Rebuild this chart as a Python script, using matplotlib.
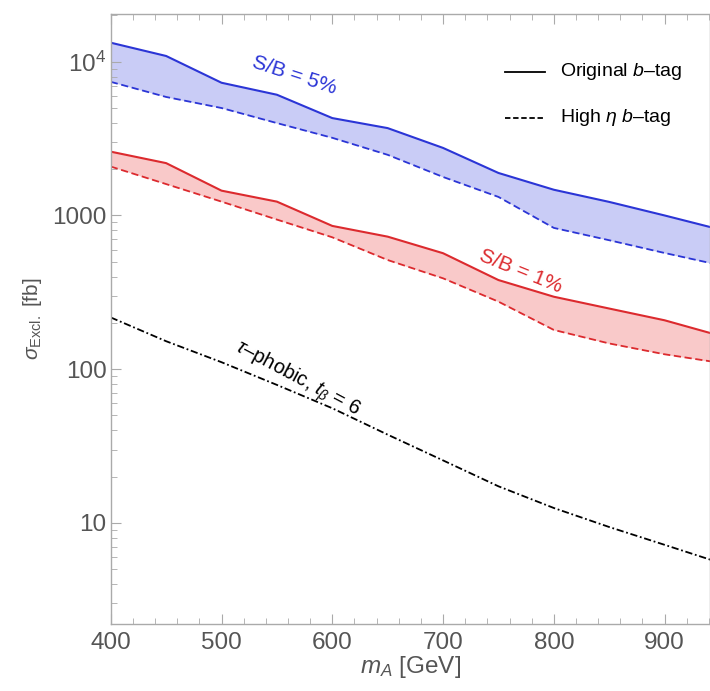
import matplotlib
matplotlib.use("Agg")
import matplotlib.pyplot as plt
from matplotlib.ticker import FixedLocator, FixedFormatter, LogLocator, MultipleLocator, NullFormatter

plt.rcParams['font.family'] = ['Liberation Sans', 'DejaVu Sans']
plt.rcParams['mathtext.fontset'] = 'custom'
plt.rcParams['mathtext.rm'] = 'Liberation Sans'
plt.rcParams['mathtext.it'] = 'Liberation Sans:italic'

# m_A [GeV]
mass = [400, 450, 500, 550, 600, 650, 700, 750, 800, 850, 900, 950]

# S/B = 5%
sb5_orig = [13300, 10900, 7300, 6100, 4300, 3700, 2750, 1890, 1470, 1225, 1000, 810]
sb5_high = [7400, 5900, 5000, 3990, 3200, 2480, 1780, 1320, 830, 690, 570, 475]

# S/B = 1%
sb1_orig = [2600, 2190, 1450, 1230, 855, 728, 568, 380, 296, 248, 208, 165]
sb1_high = [2080, 1600, 1230, 940, 721, 513, 390, 275, 180, 147, 125, 110]

# tau-phobic, t_beta = 6
tauphobic = [217, 152, 111, 79, 55.7, 37.5, 25.5, 17.3, 12.5, 9.4, 7.2, 5.5]

ytick_vals = [10, 100, 1000, 10000]
ytick_labels = ['10', '100', '1000', '$10^4$']

blue = '#2b35d6'
red = '#dc2a2e'
gray = '#555555'
spine = '#aaaaaa'

fig = plt.figure(figsize=(7.10, 6.91), dpi=100)
ax = fig.add_axes([0.156, 0.097, 0.844, 0.883])

ax.fill_between(mass, sb5_high, sb5_orig, color='#c9ccf6', lw=0)
ax.plot(mass, sb5_orig, color=blue, lw=1.5)
ax.plot(mass, sb5_high, color=blue, lw=1.3, ls=(0, (4, 2)))

ax.fill_between(mass, sb1_high, sb1_orig, color='#f9c9c9', lw=0)
ax.plot(mass, sb1_orig, color=red, lw=1.5)
ax.plot(mass, sb1_high, color=red, lw=1.3, ls=(0, (4, 2)))

ax.plot(mass, tauphobic, color='black', lw=1.3, ls=(0, (4, 1.5, 1, 1.5)))

ax.set_yscale('log')
ax.set_xlim(400, 941)
ax.set_ylim(2.2, 20500)

ax.yaxis.set_major_locator(FixedLocator(ytick_vals))
ax.yaxis.set_major_formatter(FixedFormatter(ytick_labels))
ax.yaxis.set_minor_locator(LogLocator(base=10, subs=range(2, 10)))
ax.yaxis.set_minor_formatter(NullFormatter())
ax.xaxis.set_major_locator(MultipleLocator(100))
ax.xaxis.set_minor_locator(MultipleLocator(20))

for s in ax.spines.values():
    s.set_color(spine)
    s.set_linewidth(1.0)
ax.tick_params(which='both', direction='in', top=True, right=False, color=spine)
ax.tick_params(which='major', length=7, labelsize=17.5, labelcolor=gray)
ax.tick_params(which='minor', length=4)
ax.tick_params(axis='x', which='major', pad=6)
ax.tick_params(axis='y', which='major', pad=3)

ax.set_xlabel('$m_A$ [GeV]', fontsize=17.5, color=gray, labelpad=0)
ax.set_ylabel(r'$\sigma_{\mathrm{Excl.}}$ [fb]', fontsize=15, color=gray, labelpad=6)

# legend
lx0, lx1 = 0.658, 0.725
ax.plot([lx0, lx1], [0.905, 0.905], transform=ax.transAxes, color='black', lw=1.3)
ax.plot([lx0, lx1], [0.830, 0.830], transform=ax.transAxes, color='black', lw=1.3,
        ls=(0, (3, 1.5)))
ax.text(0.750, 0.905, 'Original $b$\u2013tag', transform=ax.transAxes, fontsize=14,
        va='center', ha='left')
ax.text(0.750, 0.830, 'High $\\eta$ $b$\u2013tag', transform=ax.transAxes, fontsize=14,
        va='center', ha='left')

ax.text(566, 8200, 'S/B = 5%', color=blue, fontsize=15, rotation=-18,
        ha='center', va='center')
ax.text(770, 435, 'S/B = 1%', color=red, fontsize=15, rotation=-22,
        ha='center', va='center')
ax.text(568, 86, '$\\tau$\u2013phobic, $t_\\beta$ = 6', color='black', fontsize=14.5,
        rotation=-28, ha='center', va='center')

fig.savefig('out.png', dpi=100)
